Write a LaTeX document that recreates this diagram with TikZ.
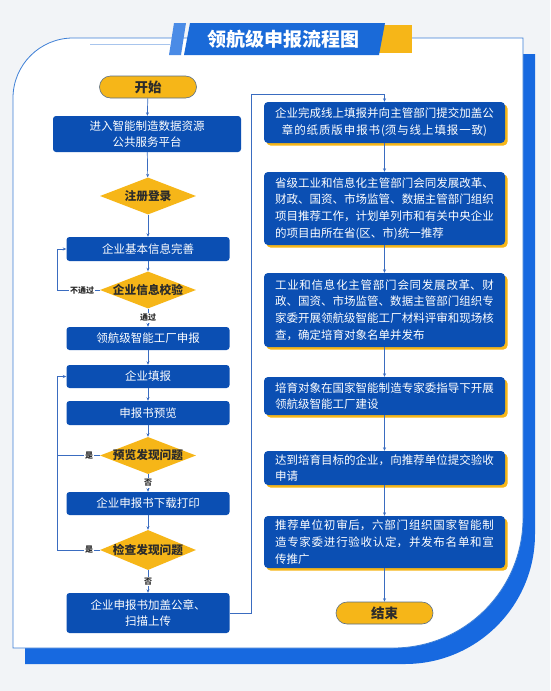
\documentclass[tikz,border=0pt]{standalone}
\usepackage{fontspec}
\setmainfont{Noto Sans CJK SC}
\XeTeXlinebreaklocale "zh"
\XeTeXlinebreakskip=0pt plus 3pt
\usetikzlibrary{shapes.geometric,arrows.meta,shadows,calc}
\definecolor{bg}{HTML}{F2F4F7}
\definecolor{cardline}{HTML}{3D7FD6}
\definecolor{shadowblue}{HTML}{1769E0}
\definecolor{boxblue}{HTML}{0B4FB3}
\definecolor{yel}{HTML}{F6B618}
\definecolor{arrowc}{HTML}{3A6CC0}
\definecolor{titleblue}{HTML}{1A6AD8}
\definecolor{stripeblue}{HTML}{4A8BE6}
\definecolor{darktext}{HTML}{2B2B2B}
\definecolor{pillline}{HTML}{5A6F86}
\begin{document}
\begin{tikzpicture}[x=1pt,y=-1pt,
  lbox/.style={fill=boxblue, rounded corners=3pt, text=white, font=\fontsize{11.5}{15.5}\selectfont, align=center, inner sep=0pt, minimum width=163pt, minimum height=24pt},
  rbox/.style={fill=boxblue, rounded corners=4pt, text=white, font=\fontsize{11.5}{16.7}\selectfont, minimum width=241pt, text width=219pt, inner sep=0pt, align=justify, drop shadow={shadow xshift=2.5pt, shadow yshift=-2.5pt, fill=yel, opacity=1}},
  pill/.style={rounded corners=11pt, minimum width=97pt, minimum height=22pt, fill=yel, draw=pillline, line width=0.6pt, font=\fontsize{13.5}{14}\selectfont\bfseries, text=darktext, inner sep=0pt},
  dia/.style={diamond, fill=yel, minimum width=96pt, minimum height=37pt, inner sep=0pt},
  diatext/.style={font=\fontsize{11.7}{12}\selectfont\bfseries, text=darktext, inner sep=0pt},
  arr/.style={draw=arrowc, line width=0.7pt, -{Stealth[length=3.5pt,width=3pt]}},
  conn/.style={draw=arrowc, line width=0.7pt},
  lab/.style={fill=white, inner sep=1pt, font=\fontsize{8}{9}\selectfont\bfseries, text=darktext}
]
\useasboundingbox (0,0) rectangle (550,691);
\fill[bg] (0,0) rectangle (550,691);
% card shadow
\begin{scope}[shift={(12,16)}]
\fill[shadowblue] (13,648) -- (13,98) .. controls (13,64.9) and (39.9,38) .. (73,38) -- (523,38) -- (523,518) .. controls (523,589.8) and (464.8,648) .. (393,648) -- cycle;
\end{scope}
% card
\filldraw[fill=white, draw=cardline, line width=0.8pt] (13,648) -- (13,98) .. controls (13,64.9) and (39.9,38) .. (73,38) -- (523,38) -- (523,518) .. controls (523,589.8) and (464.8,648) .. (393,648) -- cycle;
\draw[cardline!45, line width=0.7pt] (90,44) -- (170,44);
% title
\fill[yel] (372,25) -- (412,25) -- (412,53) -- (372,53) -- cycle;
\fill[stripeblue] (174,23) -- (186,23) -- (181,55) -- (169,55) -- cycle;
\fill[titleblue] (190,23) -- (385,23) -- (379,55) -- (184,55) -- cycle;
\node[font=\fontsize{19}{20}\selectfont\bfseries, text=white] (title) at (283,39) {领航级申报流程图};

% left column
\node[pill] (start) at (148,87) {开始};
\node[lbox, minimum width=188pt, minimum height=36pt] (b1) at (147,134) {进入智能制造数据资源\\公共服务平台};
\node[dia] (d1) at (148,196) {};
\node[diatext] (d1t) at (d1) {注册登录};
\node[lbox] (b2) at (148,249) {企业基本信息完善};
\node[dia] (d2) at (148,290) {};
\node[diatext] (d2t) at (d2) {企业信息校验};
\node[lbox, minimum height=23pt] (b3) at (148,338.5) {领航级智能工厂申报};
\node[lbox, minimum height=23pt] (b4) at (148,376.5) {企业填报};
\node[lbox] (b5) at (148,413) {申报书预览};
\node[dia] (d3) at (148,455.5) {};
\node[diatext] (d3t) at (d3) {预览发现问题};
\node[lbox, minimum height=23pt] (b6) at (148,503.5) {企业申报书下载打印};
\node[dia, minimum height=40pt] (d4) at (148,550) {};
\node[diatext] (d4t) at (d4) {检查发现问题};
\node[lbox, minimum height=40pt] (b7) at (148,613) {企业申报书加盖公章、\\扫描上传};

\draw[arr] (start) -- (b1);
\draw[arr] (b1) -- (d1);
\draw[arr] (d1) -- (b2);
\draw[arr] (b2) -- (d2);
\draw[arr] (d2) -- node[lab] (l_pass) {通过} (b3);
\draw[arr] (b3) -- (b4);
\draw[arr] (b4) -- (b5);
\draw[arr] (b5) -- (d3);
\draw[arr] (d3) -- node[lab] (l_no1) {否} (b6);
\draw[arr] (b6) -- (d4);
\draw[arr] (d4) -- node[lab] (l_no2) {否} (b7);

\coordinate (k1) at (57,290);
\draw[arr] (d2.west) -- (k1) |- (b2.west);
\node[lab] (l_fail) at (82,290) {不通过};
\coordinate (k2) at (57,550);
\coordinate (k3) at (57,455.5);
\draw[arr] (d4.west) -- (k2) |- (b4.west);
\draw[conn] (d3.west) -- (k3);
\node[lab] (l_yes1) at (89,455.5) {是};
\node[lab] (l_yes2) at (89,550) {是};

% right column
\node[rbox, align=center, minimum height=41pt] (r1) at (384.5,122.5) {企业完成线上填报并向主管部门提交加盖公\\章的纸质版申报书(须与线上填报一致)};
\node[rbox, minimum height=73pt] (r2) at (384.5,208.5) {省级工业和信息化主管部门会同发展改革、\linebreak 财政、国资、市场监管、数据主管部门组织\linebreak 项目推荐工作，计划单列市和有关中央企业\linebreak 的项目由所在省(区、市)统一推荐};
\node[rbox, minimum height=74pt] (r3) at (384.5,310) {工业和信息化主管部门会同发展改革、财\linebreak 政、国资、市场监管、数据主管部门组织专\linebreak 家委开展领航级智能工厂材料评审和现场核\linebreak 查，确定培育对象名单并发布};
\node[rbox, minimum height=38pt] (r4) at (384.5,396) {培育对象在国家智能制造专家委指导下开展\linebreak 领航级智能工厂建设};
\node[rbox, minimum height=34pt] (r5) at (384.5,468) {达到培育目标的企业，向推荐单位提交验收\linebreak 申请};
\node[rbox, minimum height=52pt] (r6) at (384.5,542) {推荐单位初审后，六部门组织国家智能制\linebreak 造专家委进行验收认定，并发布名单和宣\linebreak 传推广};
\node[pill] (end) at (384.5,613) {结束};

\draw[arr] (r1) -- (r2);
\draw[arr] (r2) -- (r3);
\draw[arr] (r3) -- (r4);
\draw[arr] (r4) -- (r5);
\draw[arr] (r5) -- (r6);
\draw[arr] (r6) -- (end);

\coordinate (c1) at (251,94);
\draw[arr] (b7.east) -| (c1) -| (r1.north);
\end{tikzpicture}
\end{document}
